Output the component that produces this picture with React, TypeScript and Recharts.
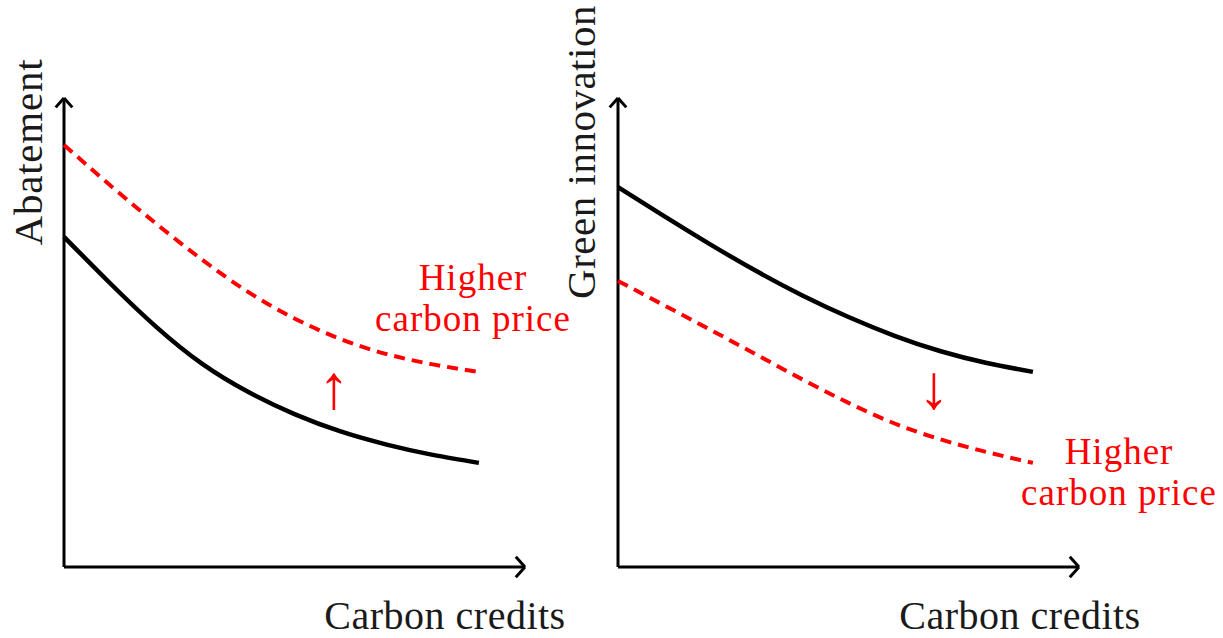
import React from "react";
import { LineChart, Line, XAxis, YAxis, ReferenceLine } from "recharts";

// carbon credits (x) sampled at integer steps
const credits = [0, 1, 2, 3, 4, 5, 6, 7, 8, 9];
const abatementBase = [7.04, 6.05, 5.12, 4.33, 3.73, 3.26, 2.89, 2.61, 2.39, 2.22];
const abatementHigh = [9.0, 8.14, 7.32, 6.55, 5.86, 5.3, 4.86, 4.54, 4.32, 4.16];
const innovationBase = [8.1, 7.48, 6.88, 6.31, 5.79, 5.33, 4.93, 4.6, 4.35, 4.16];
const innovationHigh = [6.1, 5.58, 5.06, 4.53, 4.0, 3.5, 3.06, 2.72, 2.45, 2.22];

const leftData = credits.map((c, i) => ({ c, base: abatementBase[i], high: abatementHigh[i] }));
const rightData = credits.map((c, i) => ({ c, base: innovationBase[i], high: innovationHigh[i] }));

const FONT = "'Liberation Serif', 'DejaVu Serif', serif";
const RED = "#ff0000";
const TXT = "#1a1a1a";

const Axes = () => [
  <ReferenceLine key="x" segment={[{ x: 0, y: 0 }, { x: 10, y: 0 }]} stroke="#000" strokeWidth={3} ifOverflow="visible" />,
  <ReferenceLine key="y" segment={[{ x: 0, y: 0 }, { x: 0, y: 10 }]} stroke="#000" strokeWidth={3} ifOverflow="visible" />,
  <ReferenceLine key="xa1" segment={[{ x: 9.8, y: 0.22 }, { x: 10, y: 0 }]} stroke="#000" strokeWidth={3} ifOverflow="visible" />,
  <ReferenceLine key="xa2" segment={[{ x: 9.8, y: -0.22 }, { x: 10, y: 0 }]} stroke="#000" strokeWidth={3} ifOverflow="visible" />,
  <ReferenceLine key="ya1" segment={[{ x: -0.18, y: 9.8 }, { x: 0, y: 10 }]} stroke="#000" strokeWidth={3} ifOverflow="visible" />,
  <ReferenceLine key="ya2" segment={[{ x: 0.18, y: 9.8 }, { x: 0, y: 10 }]} stroke="#000" strokeWidth={3} ifOverflow="visible" />,
];

const Panel = ({ data, left, width, marginLeft, children }: any) => (
  <div style={{ position: "absolute", left, top: 0 }}>
    <LineChart
      width={width}
      height={638}
      data={data}
      margin={{ top: 98, right: width - marginLeft - 461, bottom: 71, left: marginLeft }}
      style={{ overflow: "visible" }}
    >
      <XAxis dataKey="c" type="number" domain={[0, 10]} hide />
      <YAxis type="number" domain={[0, 10]} hide />
      {Axes()}
      <Line
        dataKey="base"
        type="natural"
        stroke="#000"
        strokeWidth={4.5}
        dot={false}
        isAnimationActive={false}
      />
      <Line
        dataKey="high"
        type="natural"
        stroke={RED}
        strokeWidth={4}
        strokeDasharray="11 7"
        dot={false}
        isAnimationActive={false}
      />
      {children}
    </LineChart>
  </div>
);

const Note = ({ x, y }: { x: number; y: number }) => (
  <text textAnchor="middle" fontFamily={FONT} fontSize={37} fill={RED} letterSpacing={1}>
    <tspan x={x} y={y}>Higher</tspan>
    <tspan x={x} y={y + 41}>carbon price</tspan>
  </text>
);

export default function App() {
  return (
    <div style={{ position: "absolute", left: 0, top: 0, width: 1223, height: 638, background: "#fff" }}>
      <Panel data={leftData} left={0} width={611} marginLeft={64}>
        <text x={445} y={629} textAnchor="middle" fontFamily={FONT} fontSize={40} fill={TXT} letterSpacing={0.5}>
          Carbon credits
        </text>
        <text transform="translate(42,152) rotate(-90)" textAnchor="middle" fontFamily={FONT} fontSize={41} fill={TXT} letterSpacing={0.8}>
          Abatement
        </text>
        <Note x={473} y={290} />
        <text x={334} y={408} textAnchor="middle" fontFamily={FONT} fontSize={62} fill={RED}>
          ↑
        </text>
      </Panel>
      <Panel data={rightData} left={540} width={683} marginLeft={78}>
        <text x={480} y={629} textAnchor="middle" fontFamily={FONT} fontSize={40} fill={TXT} letterSpacing={0.5}>
          Carbon credits
        </text>
        <text transform="translate(55,152) rotate(-90)" textAnchor="middle" fontFamily={FONT} fontSize={41} fill={TXT} letterSpacing={0.5}>
          Green innovation
        </text>
        <Note x={579} y={464} />
        <text x={394} y={408} textAnchor="middle" fontFamily={FONT} fontSize={62} fill={RED}>
          ↓
        </text>
      </Panel>
    </div>
  );
}
